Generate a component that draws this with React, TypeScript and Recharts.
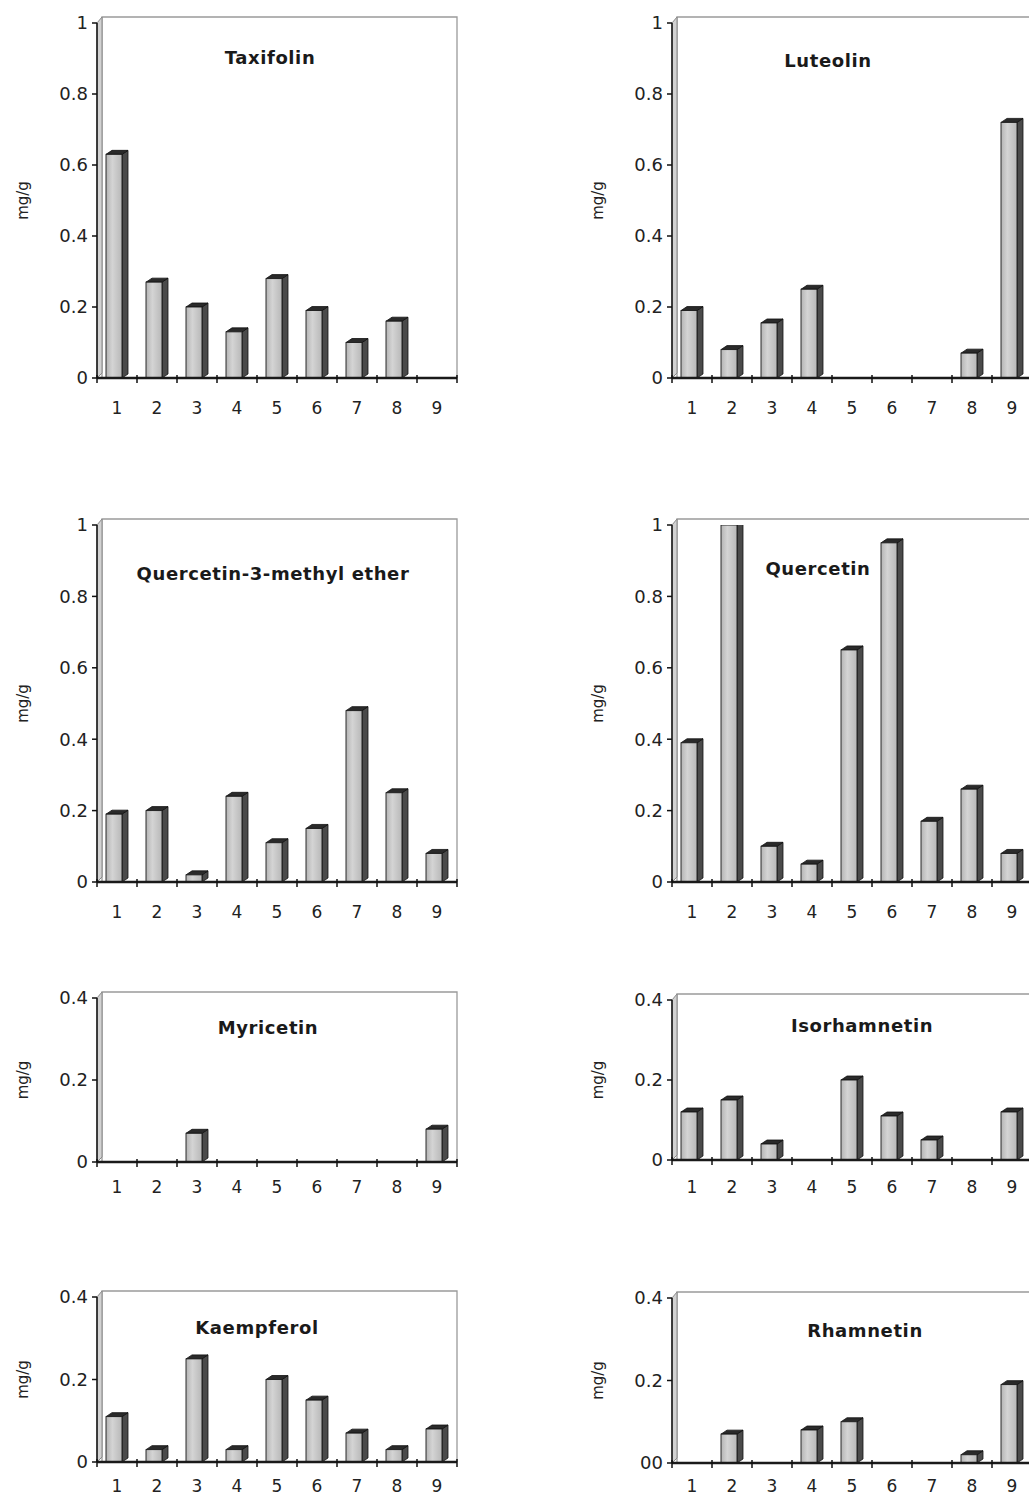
import React from "react";
import { BarChart, Bar, XAxis, YAxis } from "recharts";

const samples = ["1", "2", "3", "4", "5", "6", "7", "8", "9"];

const taxifolin = [0.63, 0.27, 0.2, 0.13, 0.28, 0.19, 0.1, 0.16, 0];
const luteolin = [0.19, 0.08, 0.155, 0.25, 0, 0, 0, 0.07, 0.72];
const quercetinMethylEther = [0.19, 0.2, 0.02, 0.24, 0.11, 0.15, 0.48, 0.25, 0.08];
const quercetin = [0.39, 1.0, 0.1, 0.05, 0.65, 0.95, 0.17, 0.26, 0.08];
const myricetin = [0, 0, 0.07, 0, 0, 0, 0, 0, 0.08];
const isorhamnetin = [0.12, 0.15, 0.04, 0, 0.2, 0.11, 0.05, 0, 0.12];
const kaempferol = [0.11, 0.03, 0.25, 0.03, 0.2, 0.15, 0.07, 0.03, 0.08];
const rhamnetin = [0, 0.07, 0, 0.08, 0.1, 0, 0, 0.02, 0.19];

const ticksHigh = [0, 0.2, 0.4, 0.6, 0.8, 1];
const ticksLow = [0, 0.2, 0.4];

const FONT = "'DejaVu Sans', Arial, sans-serif";
const MT = 12; // space above the plot for the frame
const XH = 42; // x axis band
const Y_W = 97; // y axis width
const PLOT_W = 360;
const DEPTH = 6;
const RISE = 4;

type Panel = {
  id: string;
  title: string;
  values: number[];
  max: number;
  ticks: number[];
  left: number; // page x of the chart box
  top: number; // page y of the max tick
  bottom: number; // page y of zero
  titleX: number;
  titleY: number;
  labelGap: number;
  zeroLabel?: string;
};

const panels: Panel[] = [
  { id: "tax", title: "Taxifolin", values: taxifolin, max: 1, ticks: ticksHigh, left: 0, top: 23, bottom: 378, titleX: 270, titleY: 57, labelGap: 36 },
  { id: "lut", title: "Luteolin", values: luteolin, max: 1, ticks: ticksHigh, left: 575, top: 23, bottom: 378, titleX: 828, titleY: 60, labelGap: 36 },
  { id: "q3m", title: "Quercetin-3-methyl ether", values: quercetinMethylEther, max: 1, ticks: ticksHigh, left: 0, top: 525, bottom: 882, titleX: 273, titleY: 573, labelGap: 36 },
  { id: "que", title: "Quercetin", values: quercetin, max: 1, ticks: ticksHigh, left: 575, top: 525, bottom: 882, titleX: 818, titleY: 568, labelGap: 36 },
  { id: "myr", title: "Myricetin", values: myricetin, max: 0.4, ticks: ticksLow, left: 0, top: 998, bottom: 1162, titleX: 268, titleY: 1027, labelGap: 31 },
  { id: "iso", title: "Isorhamnetin", values: isorhamnetin, max: 0.4, ticks: ticksLow, left: 575, top: 1000, bottom: 1160, titleX: 862, titleY: 1025, labelGap: 33 },
  { id: "kae", title: "Kaempferol", values: kaempferol, max: 0.4, ticks: ticksLow, left: 0, top: 1297, bottom: 1462, titleX: 257, titleY: 1327, labelGap: 30 },
  { id: "rha", title: "Rhamnetin", values: rhamnetin, max: 0.4, ticks: ticksLow, left: 575, top: 1298, bottom: 1463, titleX: 865, titleY: 1330, labelGap: 29, zeroLabel: "00" },
];

function makeBar3D(gradId: string) {
  return function Bar3D(props: any) {
    const { x, y, width, height } = props;
    if (!height || height < 0.5) return <g />;
    const fw = width - DEPTH;
    const base = y + height;
    return (
      <g>
        <polygon
          points={`${x + fw},${y} ${x + width},${y - RISE} ${x + width},${base - RISE} ${x + fw},${base}`}
          fill="#4a4a4a"
          stroke="#151515"
          strokeWidth={0.8}
        />
        <polygon
          points={`${x},${y} ${x + DEPTH},${y - RISE} ${x + width},${y - RISE} ${x + fw},${y}`}
          fill="#2a2a2a"
          stroke="#111"
          strokeWidth={0.8}
        />
        <rect x={x} y={y} width={fw} height={height} fill={`url(#${gradId})`} stroke="#1a1a1a" strokeWidth={0.9} />
      </g>
    );
  };
}

function makeSampleTick(gap: number) {
  return function SampleTick(props: any) {
    const { x, y, payload, index } = props;
    const half = typeof payload?.offset === "number" && payload.offset > 0 ? payload.offset : PLOT_W / 18;
    const last = index === samples.length - 1;
    return (
      <g>
        <line x1={x - half} x2={x - half} y1={y - 3} y2={y + 5} stroke="#111" strokeWidth={1.5} />
        {last && <line x1={x + half} x2={x + half} y1={y - 3} y2={y + 5} stroke="#111" strokeWidth={1.5} />}
        <text x={x} y={y + gap} textAnchor="middle" fontSize={17} fill="#222" fontFamily={FONT}>
          {payload.value}
        </text>
      </g>
    );
  };
}

function ChemPanel({ p }: { p: Panel }) {
  const plotH = p.bottom - p.top;
  const h = MT + plotH + XH;
  const w = Y_W + PLOT_W + 23;
  const data = samples.map((s, i) => ({ sample: s, value: p.values[i] }));
  const PL = Y_W;
  const PR = Y_W + PLOT_W;
  const PT = MT;
  const PB = MT + plotH;
  const d = 5;
  const gradId = `front-${p.id}`;
  const tx = p.titleX - p.left;
  const ty = p.titleY - (p.top - MT);
  const ly = PT + plotH / 2;

  return (
    <div style={{ position: "absolute", left: p.left, top: p.top - MT, width: w, height: h }}>
      <svg width={w} height={h} style={{ position: "absolute", left: 0, top: 0 }}>
        <polyline
          points={`${PL + d},${PB} ${PL + d},${PT - 6} ${PR},${PT - 6} ${PR},${PB}`}
          fill="none"
          stroke="#9a9a9a"
          strokeWidth={1.3}
        />
        <polygon
          points={`${PL},${PT} ${PL + d},${PT - 6} ${PL + d},${PB - 5} ${PL},${PB}`}
          fill="#d2d2d2"
          stroke="#8a8a8a"
          strokeWidth={1}
        />
        <text x={tx} y={ty} textAnchor="middle" dominantBaseline="central" fontSize={18} fontWeight="bold" letterSpacing={0.6} fill="#1a1a1a" fontFamily={FONT}>
          {p.title}
        </text>
        <text
          x={23}
          y={ly}
          transform={`rotate(-90 23 ${ly})`}
          textAnchor="middle"
          dominantBaseline="central"
          fontSize={15}
          fill="#222"
          fontFamily={FONT}
        >
          mg/g
        </text>
      </svg>
      <div style={{ position: "absolute", left: 0, top: 0 }}>
        <BarChart width={w} height={h} data={data} margin={{ top: MT, right: w - PR, left: 0, bottom: 0 }} barSize={22}>
          <defs>
            <linearGradient id={gradId} x1="0" y1="0" x2="1" y2="0">
              <stop offset="0%" stopColor="#b4b4b4" />
              <stop offset="40%" stopColor="#d4d4d4" />
              <stop offset="100%" stopColor="#b8b8b8" />
            </linearGradient>
          </defs>
          <XAxis
            dataKey="sample"
            interval={0}
            height={XH}
            tickSize={0}
            tickMargin={0}
            tickLine={false}
            axisLine={{ stroke: "#1a1a1a", strokeWidth: 2.5 }}
            tick={makeSampleTick(p.labelGap)}
          />
          <YAxis
            type="number"
            domain={[0, p.max]}
            ticks={p.ticks}
            interval={0}
            width={Y_W}
            allowDataOverflow
            tickSize={5}
            tickMargin={4}
            axisLine={{ stroke: "#111", strokeWidth: 1.5 }}
            tickLine={{ stroke: "#111", strokeWidth: 1.5 }}
            tickFormatter={(v: number) => (v === 0 && p.zeroLabel ? p.zeroLabel : String(v))}
            tick={{ fontSize: 18, fill: "#222", fontFamily: FONT }}
          />
          <Bar dataKey="value" isAnimationActive={false} shape={makeBar3D(gradId)} />
        </BarChart>
      </div>
    </div>
  );
}

export default function App() {
  return (
    <div
      style={{
        position: "absolute",
        left: 0,
        top: 0,
        width: 1029,
        height: 1497,
        overflow: "hidden",
        background: "#fff",
      }}
    >
      {panels.map((p) => (
        <ChemPanel key={p.id} p={p} />
      ))}
    </div>
  );
}
